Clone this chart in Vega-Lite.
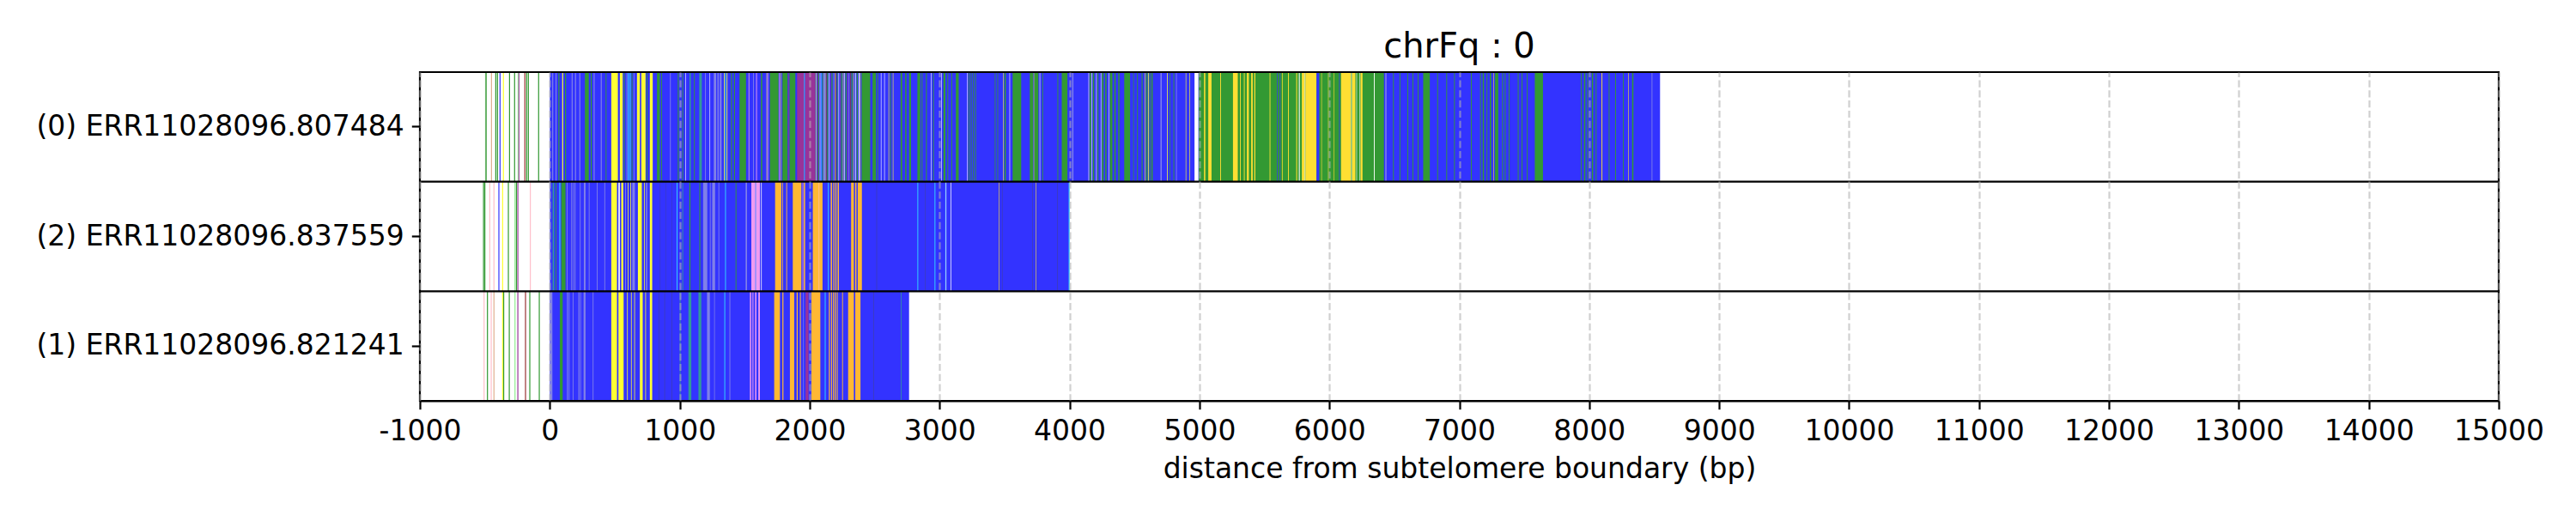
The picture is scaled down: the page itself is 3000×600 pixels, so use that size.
{
  "$schema": "https://vega.github.io/schema/vega-lite/v6.json",
  "width": 2421,
  "height": 383,
  "autosize": "none",
  "padding": {"left": 489, "top": 84, "right": 90, "bottom": 133},
  "background": "white",
  "config": {
    "font": "DejaVu Sans",
    "view": {"stroke": "black", "strokeWidth": 2.2}
  },
  "title": {
    "text": "chrFq : 0",
    "font": "DejaVu Sans",
    "fontSize": 40,
    "fontWeight": "normal",
    "color": "black",
    "anchor": "middle",
    "frame": "group",
    "baseline": "alphabetic",
    "offset": 17,
    "dy": 41
  },
  "datasets": {
    "reads": [
      {"id": "0", "name": "(0) ERR11028096.807484"},
      {"id": "2", "name": "(2) ERR11028096.837559"},
      {"id": "1", "name": "(1) ERR11028096.821241"}
    ],
    "segs": [
      {"r":"0","s":0,"e":8545,"c":"b"},
      {"r":"0","s":4995,"e":6420,"c":"g"},
      {"r":"0","s":-498,"e":-493,"c":"g"},
      {"r":"0","s":-490,"e":-485,"c":"g"},
      {"r":"0","s":-453,"e":-445,"c":"tn"},
      {"r":"0","s":-420,"e":-412,"c":"g"},
      {"r":"0","s":-407,"e":-399,"c":"g"},
      {"r":"0","s":-387,"e":-379,"c":"b"},
      {"r":"0","s":-361,"e":-353,"c":"y"},
      {"r":"0","s":-314,"e":-306,"c":"g"},
      {"r":"0","s":-275,"e":-267,"c":"g"},
      {"r":"0","s":-248,"e":-241,"c":"lg"},
      {"r":"0","s":-241,"e":-234,"c":"p"},
      {"r":"0","s":-196,"e":-188,"c":"dr"},
      {"r":"0","s":-182,"e":-174,"c":"g"},
      {"r":"0","s":-169,"e":-161,"c":"g"},
      {"r":"0","s":-90,"e":-82,"c":"g"},
      {"r":"0","s":18,"e":26,"c":"lp"},
      {"r":"0","s":44,"e":52,"c":"lp"},
      {"r":"0","s":66,"e":74,"c":"g"},
      {"r":"0","s":95,"e":103,"c":"y"},
      {"r":"0","s":117,"e":125,"c":"g"},
      {"r":"0","s":168,"e":176,"c":"lp"},
      {"r":"0","s":194,"e":202,"c":"lp"},
      {"r":"0","s":227,"e":235,"c":"lp"},
      {"r":"0","s":270,"e":300,"c":"g"},
      {"r":"0","s":315,"e":323,"c":"g"},
      {"r":"0","s":337,"e":345,"c":"lp"},
      {"r":"0","s":392,"e":400,"c":"lp"},
      {"r":"0","s":430,"e":436,"c":"g"},
      {"r":"0","s":473,"e":524,"c":"y"},
      {"r":"0","s":539,"e":561,"c":"y"},
      {"r":"0","s":570,"e":576,"c":"g"},
      {"r":"0","s":590,"e":596,"c":"lp"},
      {"r":"0","s":602,"e":608,"c":"c"},
      {"r":"0","s":616,"e":622,"c":"c"},
      {"r":"0","s":630,"e":636,"c":"g"},
      {"r":"0","s":645,"e":651,"c":"lp"},
      {"r":"0","s":671,"e":693,"c":"y"},
      {"r":"0","s":704,"e":737,"c":"y"},
      {"r":"0","s":745,"e":751,"c":"g"},
      {"r":"0","s":770,"e":792,"c":"y"},
      {"r":"0","s":825,"e":847,"c":"g"},
      {"r":"0","s":858,"e":864,"c":"g"},
      {"r":"0","s":925,"e":931,"c":"lp"},
      {"r":"0","s":985,"e":992,"c":"g"},
      {"r":"0","s":1020,"e":1026,"c":"g"},
      {"r":"0","s":1043,"e":1047,"c":"w"},
      {"r":"0","s":1075,"e":1085,"c":"t"},
      {"r":"0","s":1110,"e":1116,"c":"g"},
      {"r":"0","s":1150,"e":1170,"c":"t"},
      {"r":"0","s":1195,"e":1201,"c":"lp"},
      {"r":"0","s":1230,"e":1234,"c":"w"},
      {"r":"0","s":1262,"e":1280,"c":"lp"},
      {"r":"0","s":1290,"e":1300,"c":"lp"},
      {"r":"0","s":1308,"e":1322,"c":"lp"},
      {"r":"0","s":1340,"e":1345,"c":"y"},
      {"r":"0","s":1350,"e":1355,"c":"c"},
      {"r":"0","s":1362,"e":1367,"c":"y"},
      {"r":"0","s":1395,"e":1402,"c":"g"},
      {"r":"0","s":1418,"e":1425,"c":"g"},
      {"r":"0","s":1460,"e":1510,"c":"g"},
      {"r":"0","s":1530,"e":1535,"c":"pk"},
      {"r":"0","s":1565,"e":1571,"c":"lp"},
      {"r":"0","s":1588,"e":1594,"c":"v"},
      {"r":"0","s":1625,"e":1635,"c":"g"},
      {"r":"0","s":1668,"e":1672,"c":"y"},
      {"r":"0","s":1675,"e":1680,"c":"v"},
      {"r":"0","s":1694,"e":1760,"c":"g"},
      {"r":"0","s":1765,"e":1770,"c":"v"},
      {"r":"0","s":1775,"e":1779,"c":"y"},
      {"r":"0","s":1790,"e":1830,"c":"g"},
      {"r":"0","s":1835,"e":1840,"c":"p"},
      {"r":"0","s":1845,"e":1890,"c":"g"},
      {"r":"0","s":1903,"e":1958,"c":"p"},
      {"r":"0","s":1958,"e":1963,"c":"c"},
      {"r":"0","s":1965,"e":2045,"c":"p"},
      {"r":"0","s":2045,"e":2050,"c":"g"},
      {"r":"0","s":2050,"e":2054,"c":"w"},
      {"r":"0","s":2058,"e":2063,"c":"dr"},
      {"r":"0","s":2066,"e":2072,"c":"g"},
      {"r":"0","s":2078,"e":2082,"c":"w"},
      {"r":"0","s":2090,"e":2094,"c":"c"},
      {"r":"0","s":2098,"e":2104,"c":"g"},
      {"r":"0","s":2110,"e":2114,"c":"w"},
      {"r":"0","s":2118,"e":2122,"c":"y"},
      {"r":"0","s":2126,"e":2130,"c":"dr"},
      {"r":"0","s":2134,"e":2142,"c":"g"},
      {"r":"0","s":2148,"e":2152,"c":"w"},
      {"r":"0","s":2158,"e":2162,"c":"p"},
      {"r":"0","s":2168,"e":2176,"c":"g"},
      {"r":"0","s":2182,"e":2186,"c":"lp"},
      {"r":"0","s":2192,"e":2196,"c":"y"},
      {"r":"0","s":2200,"e":2205,"c":"dr"},
      {"r":"0","s":2210,"e":2216,"c":"g"},
      {"r":"0","s":2222,"e":2226,"c":"w"},
      {"r":"0","s":2232,"e":2236,"c":"p"},
      {"r":"0","s":2242,"e":2250,"c":"g"},
      {"r":"0","s":2256,"e":2260,"c":"y"},
      {"r":"0","s":2266,"e":2270,"c":"w"},
      {"r":"0","s":2276,"e":2284,"c":"g"},
      {"r":"0","s":2290,"e":2295,"c":"p"},
      {"r":"0","s":2300,"e":2305,"c":"lp"},
      {"r":"0","s":2310,"e":2316,"c":"dr"},
      {"r":"0","s":2322,"e":2330,"c":"g"},
      {"r":"0","s":2336,"e":2340,"c":"y"},
      {"r":"0","s":2350,"e":2355,"c":"w"},
      {"r":"0","s":2362,"e":2370,"c":"g"},
      {"r":"0","s":2378,"e":2384,"c":"w"},
      {"r":"0","s":2388,"e":2392,"c":"y"},
      {"r":"0","s":2400,"e":2466,"c":"g"},
      {"r":"0","s":2484,"e":2510,"c":"g"},
      {"r":"0","s":2520,"e":2526,"c":"g"},
      {"r":"0","s":2548,"e":2552,"c":"w"},
      {"r":"0","s":2574,"e":2578,"c":"w"},
      {"r":"0","s":2607,"e":2611,"c":"y"},
      {"r":"0","s":2620,"e":2626,"c":"g"},
      {"r":"0","s":2640,"e":2644,"c":"y"},
      {"r":"0","s":2700,"e":2712,"c":"g"},
      {"r":"0","s":2735,"e":2745,"c":"g"},
      {"r":"0","s":2765,"e":2780,"c":"g"},
      {"r":"0","s":2829,"e":2851,"c":"g"},
      {"r":"0","s":2862,"e":2868,"c":"g"},
      {"r":"0","s":2895,"e":2902,"c":"g"},
      {"r":"0","s":2933,"e":2937,"c":"w"},
      {"r":"0","s":2950,"e":2956,"c":"g"},
      {"r":"0","s":3014,"e":3018,"c":"w"},
      {"r":"0","s":3030,"e":3045,"c":"g"},
      {"r":"0","s":3060,"e":3066,"c":"g"},
      {"r":"0","s":3090,"e":3096,"c":"g"},
      {"r":"0","s":3125,"e":3147,"c":"g"},
      {"r":"0","s":3211,"e":3215,"c":"w"},
      {"r":"0","s":3224,"e":3230,"c":"g"},
      {"r":"0","s":3240,"e":3246,"c":"g"},
      {"r":"0","s":3258,"e":3264,"c":"g"},
      {"r":"0","s":3274,"e":3280,"c":"g"},
      {"r":"0","s":3425,"e":3430,"c":"g"},
      {"r":"0","s":3445,"e":3450,"c":"g"},
      {"r":"0","s":3488,"e":3492,"c":"y"},
      {"r":"0","s":3500,"e":3510,"c":"g"},
      {"r":"0","s":3538,"e":3542,"c":"w"},
      {"r":"0","s":3562,"e":3628,"c":"g"},
      {"r":"0","s":3694,"e":3720,"c":"g"},
      {"r":"0","s":3724,"e":3728,"c":"y"},
      {"r":"0","s":3730,"e":3760,"c":"g"},
      {"r":"0","s":3770,"e":3774,"c":"w"},
      {"r":"0","s":3790,"e":3796,"c":"g"},
      {"r":"0","s":3907,"e":3913,"c":"g"},
      {"r":"0","s":3940,"e":3984,"c":"g"},
      {"r":"0","s":4020,"e":4030,"c":"lp"},
      {"r":"0","s":4146,"e":4150,"c":"w"},
      {"r":"0","s":4155,"e":4165,"c":"g"},
      {"r":"0","s":4168,"e":4172,"c":"w"},
      {"r":"0","s":4180,"e":4190,"c":"g"},
      {"r":"0","s":4205,"e":4209,"c":"w"},
      {"r":"0","s":4215,"e":4222,"c":"g"},
      {"r":"0","s":4240,"e":4244,"c":"w"},
      {"r":"0","s":4250,"e":4262,"c":"g"},
      {"r":"0","s":4275,"e":4285,"c":"g"},
      {"r":"0","s":4300,"e":4304,"c":"w"},
      {"r":"0","s":4311,"e":4330,"c":"g"},
      {"r":"0","s":4345,"e":4355,"c":"g"},
      {"r":"0","s":4375,"e":4385,"c":"g"},
      {"r":"0","s":4421,"e":4466,"c":"g"},
      {"r":"0","s":4490,"e":4495,"c":"g"},
      {"r":"0","s":4520,"e":4526,"c":"g"},
      {"r":"0","s":4555,"e":4562,"c":"g"},
      {"r":"0","s":4580,"e":4584,"c":"y"},
      {"r":"0","s":4590,"e":4600,"c":"g"},
      {"r":"0","s":4605,"e":4610,"c":"y"},
      {"r":"0","s":4615,"e":4622,"c":"g"},
      {"r":"0","s":4630,"e":4640,"c":"g"},
      {"r":"0","s":4700,"e":4710,"c":"lp"},
      {"r":"0","s":4751,"e":4756,"c":"y"},
      {"r":"0","s":4770,"e":4775,"c":"g"},
      {"r":"0","s":4800,"e":4806,"c":"g"},
      {"r":"0","s":4820,"e":4826,"c":"lp"},
      {"r":"0","s":4894,"e":4898,"c":"y"},
      {"r":"0","s":4922,"e":4926,"c":"y"},
      {"r":"0","s":4962,"e":4992,"c":"w"},
      {"r":"0","s":5035,"e":5045,"c":"gd"},
      {"r":"0","s":5068,"e":5093,"c":"gd"},
      {"r":"0","s":5160,"e":5166,"c":"gd"},
      {"r":"0","s":5258,"e":5295,"c":"gd"},
      {"r":"0","s":5312,"e":5318,"c":"gd"},
      {"r":"0","s":5342,"e":5348,"c":"gd"},
      {"r":"0","s":5365,"e":5380,"c":"gd"},
      {"r":"0","s":5398,"e":5410,"c":"gd"},
      {"r":"0","s":5422,"e":5430,"c":"gd"},
      {"r":"0","s":5540,"e":5546,"c":"gd"},
      {"r":"0","s":5598,"e":5603,"c":"b"},
      {"r":"0","s":5618,"e":5623,"c":"b"},
      {"r":"0","s":5635,"e":5640,"c":"gd"},
      {"r":"0","s":5682,"e":5688,"c":"gd"},
      {"r":"0","s":5745,"e":5752,"c":"gd"},
      {"r":"0","s":5765,"e":5772,"c":"w"},
      {"r":"0","s":5788,"e":5810,"c":"gd"},
      {"r":"0","s":5810,"e":5816,"c":"w"},
      {"r":"0","s":5816,"e":5901,"c":"gd"},
      {"r":"0","s":5901,"e":5922,"c":"b"},
      {"r":"0","s":5938,"e":5942,"c":"gd"},
      {"r":"0","s":5990,"e":5994,"c":"gd"},
      {"r":"0","s":6033,"e":6037,"c":"gd"},
      {"r":"0","s":6075,"e":6080,"c":"b"},
      {"r":"0","s":6090,"e":6165,"c":"gd"},
      {"r":"0","s":6168,"e":6173,"c":"w"},
      {"r":"0","s":6175,"e":6200,"c":"gd"},
      {"r":"0","s":6208,"e":6212,"c":"w"},
      {"r":"0","s":6233,"e":6237,"c":"w"},
      {"r":"0","s":6240,"e":6255,"c":"gd"},
      {"r":"0","s":6343,"e":6349,"c":"w"},
      {"r":"0","s":6430,"e":6440,"c":"lp"},
      {"r":"0","s":6490,"e":6496,"c":"g"},
      {"r":"0","s":6540,"e":6546,"c":"g"},
      {"r":"0","s":6600,"e":6606,"c":"g"},
      {"r":"0","s":6640,"e":6646,"c":"g"},
      {"r":"0","s":6680,"e":6686,"c":"g"},
      {"r":"0","s":6722,"e":6773,"c":"g"},
      {"r":"0","s":6830,"e":6836,"c":"g"},
      {"r":"0","s":6900,"e":6906,"c":"g"},
      {"r":"0","s":6960,"e":6966,"c":"g"},
      {"r":"0","s":7090,"e":7096,"c":"g"},
      {"r":"0","s":7160,"e":7166,"c":"g"},
      {"r":"0","s":7180,"e":7190,"c":"g"},
      {"r":"0","s":7210,"e":7216,"c":"g"},
      {"r":"0","s":7235,"e":7245,"c":"g"},
      {"r":"0","s":7263,"e":7267,"c":"gd"},
      {"r":"0","s":7275,"e":7300,"c":"g"},
      {"r":"0","s":7330,"e":7336,"c":"g"},
      {"r":"0","s":7350,"e":7356,"c":"g"},
      {"r":"0","s":7380,"e":7386,"c":"g"},
      {"r":"0","s":7450,"e":7456,"c":"g"},
      {"r":"0","s":7480,"e":7486,"c":"g"},
      {"r":"0","s":7520,"e":7526,"c":"g"},
      {"r":"0","s":7581,"e":7644,"c":"g"},
      {"r":"0","s":7935,"e":7941,"c":"g"},
      {"r":"0","s":7960,"e":7970,"c":"g"},
      {"r":"0","s":7985,"e":7991,"c":"g"},
      {"r":"0","s":8020,"e":8030,"c":"g"},
      {"r":"0","s":8050,"e":8056,"c":"g"},
      {"r":"0","s":8095,"e":8101,"c":"gd"},
      {"r":"0","s":8150,"e":8156,"c":"g"},
      {"r":"0","s":8200,"e":8206,"c":"g"},
      {"r":"0","s":8260,"e":8266,"c":"g"},
      {"r":"0","s":8300,"e":8304,"c":"gd"},
      {"r":"0","s":8330,"e":8340,"c":"g"},
      {"r":"0","s":8480,"e":8486,"c":"lp"},

      {"r":"2","s":0,"e":4000,"c":"b"},
      {"r":"2","s":-514,"e":-506,"c":"g"},
      {"r":"2","s":-504,"e":-496,"c":"g"},
      {"r":"2","s":-466,"e":-458,"c":"pk"},
      {"r":"2","s":-434,"e":-426,"c":"pk"},
      {"r":"2","s":-396,"e":-388,"c":"b"},
      {"r":"2","s":-367,"e":-359,"c":"y"},
      {"r":"2","s":-323,"e":-315,"c":"g"},
      {"r":"2","s":-272,"e":-264,"c":"lg"},
      {"r":"2","s":-261,"e":-253,"c":"g"},
      {"r":"2","s":-250,"e":-242,"c":"p"},
      {"r":"2","s":-154,"e":-146,"c":"pk"},
      {"r":"2","s":0,"e":6,"c":"lp"},
      {"r":"2","s":22,"e":33,"c":"t"},
      {"r":"2","s":44,"e":50,"c":"g"},
      {"r":"2","s":74,"e":80,"c":"c"},
      {"r":"2","s":88,"e":121,"c":"g"},
      {"r":"2","s":130,"e":136,"c":"lp"},
      {"r":"2","s":165,"e":172,"c":"lp"},
      {"r":"2","s":180,"e":186,"c":"lp"},
      {"r":"2","s":192,"e":198,"c":"lp"},
      {"r":"2","s":231,"e":237,"c":"lp"},
      {"r":"2","s":262,"e":275,"c":"lp"},
      {"r":"2","s":300,"e":306,"c":"lp"},
      {"r":"2","s":362,"e":368,"c":"lp"},
      {"r":"2","s":420,"e":426,"c":"lp"},
      {"r":"2","s":473,"e":517,"c":"y"},
      {"r":"2","s":528,"e":539,"c":"w"},
      {"r":"2","s":550,"e":565,"c":"y"},
      {"r":"2","s":580,"e":586,"c":"lp"},
      {"r":"2","s":600,"e":605,"c":"y"},
      {"r":"2","s":620,"e":625,"c":"y"},
      {"r":"2","s":635,"e":655,"c":"lp"},
      {"r":"2","s":678,"e":708,"c":"y"},
      {"r":"2","s":725,"e":730,"c":"y"},
      {"r":"2","s":740,"e":750,"c":"lp"},
      {"r":"2","s":770,"e":788,"c":"y"},
      {"r":"2","s":848,"e":851,"c":"dk"},
      {"r":"2","s":892,"e":895,"c":"dk"},
      {"r":"2","s":936,"e":939,"c":"dk"},
      {"r":"2","s":977,"e":982,"c":"c"},
      {"r":"2","s":1020,"e":1026,"c":"t"},
      {"r":"2","s":1074,"e":1082,"c":"g"},
      {"r":"2","s":1151,"e":1158,"c":"g"},
      {"r":"2","s":1180,"e":1212,"c":"lp"},
      {"r":"2","s":1232,"e":1238,"c":"lp"},
      {"r":"2","s":1250,"e":1272,"c":"lp"},
      {"r":"2","s":1298,"e":1304,"c":"lp"},
      {"r":"2","s":1350,"e":1355,"c":"c"},
      {"r":"2","s":1430,"e":1436,"c":"g"},
      {"r":"2","s":1507,"e":1518,"c":"lp"},
      {"r":"2","s":1551,"e":1580,"c":"v"},
      {"r":"2","s":1582,"e":1587,"c":"w"},
      {"r":"2","s":1589,"e":1617,"c":"v"},
      {"r":"2","s":1626,"e":1631,"c":"w"},
      {"r":"2","s":1734,"e":1782,"c":"o"},
      {"r":"2","s":1790,"e":1795,"c":"o"},
      {"r":"2","s":1820,"e":1826,"c":"o"},
      {"r":"2","s":1870,"e":1936,"c":"o"},
      {"r":"2","s":1945,"e":1950,"c":"v"},
      {"r":"2","s":1955,"e":1965,"c":"o"},
      {"r":"2","s":2024,"e":2099,"c":"o"},
      {"r":"2","s":2070,"e":2074,"c":"pk"},
      {"r":"2","s":2142,"e":2147,"c":"c"},
      {"r":"2","s":2162,"e":2172,"c":"o"},
      {"r":"2","s":2182,"e":2190,"c":"o"},
      {"r":"2","s":2198,"e":2206,"c":"o"},
      {"r":"2","s":2215,"e":2225,"c":"o"},
      {"r":"2","s":2319,"e":2340,"c":"o"},
      {"r":"2","s":2350,"e":2360,"c":"o"},
      {"r":"2","s":2370,"e":2402,"c":"o"},
      {"r":"2","s":2514,"e":2518,"c":"dk"},
      {"r":"2","s":2830,"e":2835,"c":"c"},
      {"r":"2","s":2889,"e":2893,"c":"dk"},
      {"r":"2","s":2962,"e":2967,"c":"c"},
      {"r":"2","s":3044,"e":3048,"c":"c"},
      {"r":"2","s":3048,"e":3052,"c":"w"},
      {"r":"2","s":3084,"e":3089,"c":"w"},
      {"r":"2","s":3456,"e":3460,"c":"gd"},
      {"r":"2","s":3480,"e":3484,"c":"dk"},
      {"r":"2","s":3712,"e":3716,"c":"dk"},
      {"r":"2","s":3740,"e":3744,"c":"gd"},
      {"r":"2","s":3906,"e":3910,"c":"dk"},
      {"r":"2","s":3994,"e":4000,"c":"c"},

      {"r":"1","s":0,"e":2765,"c":"b"},
      {"r":"1","s":-510,"e":-502,"c":"pk"},
      {"r":"1","s":-484,"e":-476,"c":"g"},
      {"r":"1","s":-455,"e":-447,"c":"pk"},
      {"r":"1","s":-434,"e":-426,"c":"tn"},
      {"r":"1","s":-367,"e":-359,"c":"y"},
      {"r":"1","s":-359,"e":-351,"c":"g"},
      {"r":"1","s":-316,"e":-308,"c":"g"},
      {"r":"1","s":-272,"e":-264,"c":"lg"},
      {"r":"1","s":-250,"e":-242,"c":"p"},
      {"r":"1","s":-191,"e":-183,"c":"dr"},
      {"r":"1","s":-158,"e":-150,"c":"g"},
      {"r":"1","s":-85,"e":-77,"c":"g"},
      {"r":"1","s":0,"e":20,"c":"lp"},
      {"r":"1","s":77,"e":99,"c":"g"},
      {"r":"1","s":132,"e":140,"c":"lp"},
      {"r":"1","s":146,"e":152,"c":"lp"},
      {"r":"1","s":176,"e":182,"c":"lp"},
      {"r":"1","s":220,"e":228,"c":"lp"},
      {"r":"1","s":234,"e":240,"c":"lp"},
      {"r":"1","s":260,"e":275,"c":"lp"},
      {"r":"1","s":330,"e":336,"c":"lp"},
      {"r":"1","s":473,"e":517,"c":"y"},
      {"r":"1","s":528,"e":568,"c":"y"},
      {"r":"1","s":595,"e":600,"c":"y"},
      {"r":"1","s":625,"e":630,"c":"y"},
      {"r":"1","s":650,"e":655,"c":"y"},
      {"r":"1","s":693,"e":715,"c":"y"},
      {"r":"1","s":735,"e":740,"c":"y"},
      {"r":"1","s":770,"e":788,"c":"y"},
      {"r":"1","s":838,"e":842,"c":"dk"},
      {"r":"1","s":882,"e":886,"c":"dk"},
      {"r":"1","s":937,"e":941,"c":"dk"},
      {"r":"1","s":1000,"e":1006,"c":"t"},
      {"r":"1","s":1067,"e":1089,"c":"t"},
      {"r":"1","s":1144,"e":1166,"c":"t"},
      {"r":"1","s":1210,"e":1232,"c":"lp"},
      {"r":"1","s":1265,"e":1270,"c":"lp"},
      {"r":"1","s":1344,"e":1349,"c":"c"},
      {"r":"1","s":1383,"e":1389,"c":"lp"},
      {"r":"1","s":1540,"e":1550,"c":"v"},
      {"r":"1","s":1560,"e":1567,"c":"v"},
      {"r":"1","s":1580,"e":1590,"c":"v"},
      {"r":"1","s":1605,"e":1617,"c":"v"},
      {"r":"1","s":1727,"e":1771,"c":"o"},
      {"r":"1","s":1790,"e":1798,"c":"o"},
      {"r":"1","s":1848,"e":1881,"c":"o"},
      {"r":"1","s":1900,"e":1908,"c":"o"},
      {"r":"1","s":1925,"e":1932,"c":"o"},
      {"r":"1","s":1950,"e":1955,"c":"lp"},
      {"r":"1","s":1969,"e":1991,"c":"p"},
      {"r":"1","s":2013,"e":2082,"c":"o"},
      {"r":"1","s":2117,"e":2122,"c":"c"},
      {"r":"1","s":2148,"e":2156,"c":"o"},
      {"r":"1","s":2165,"e":2172,"c":"o"},
      {"r":"1","s":2180,"e":2188,"c":"o"},
      {"r":"1","s":2195,"e":2203,"c":"o"},
      {"r":"1","s":2210,"e":2216,"c":"o"},
      {"r":"1","s":2250,"e":2256,"c":"o"},
      {"r":"1","s":2296,"e":2340,"c":"o"},
      {"r":"1","s":2351,"e":2391,"c":"o"},
      {"r":"1","s":2492,"e":2496,"c":"dk"},
      {"r":"1","s":2702,"e":2707,"c":"t"}
    ]
  },
  "layer": [
    {
      "data": {"name": "segs"},
      "transform": [
        {"lookup": "r", "from": {"data": {"name": "reads"}, "key": "id", "fields": ["name"]}}
      ],
      "mark": {"type": "rect"},
      "encoding": {
        "x": {
          "field": "s",
          "type": "quantitative",
          "title": "distance from subtelomere boundary (bp)",
          "scale": {"domain": [-1000, 15000], "nice": false, "zero": false},
          "axis": {
            "values": [-1000, 0, 1000, 2000, 3000, 4000, 5000, 6000, 7000, 8000, 9000, 10000, 11000, 12000, 13000, 14000, 15000],
            "labelExpr": "'' + datum.value",
            "labelFontSize": 33,
            "labelColor": "black",
            "labelPadding": 10,
            "labelOverlap": false,
            "labelFlush": false,
            "labelBound": false,
            "tickSize": 9.7,
            "tickWidth": 2.2,
            "tickColor": "black",
            "domain": true,
            "domainColor": "black",
            "domainWidth": 2.2,
            "grid": true,
            "gridColor": "#b0b0b0",
            "gridOpacity": 0.6,
            "gridWidth": 2.2,
            "gridDash": [8.2, 3.6],
            "titleFontSize": 33,
            "titleFontWeight": "normal",
            "titleColor": "black",
            "titlePadding": 11,
            "zindex": 1
          }
        },
        "x2": {"field": "e"},
        "y": {
          "field": "name",
          "type": "nominal",
          "title": null,
          "scale": {
            "domain": ["(0) ERR11028096.807484", "(2) ERR11028096.837559", "(1) ERR11028096.821241"],
            "paddingInner": 0,
            "paddingOuter": 0
          },
          "axis": {
            "labelFontSize": 33,
            "labelColor": "black",
            "labelPadding": 9,
            "labelLimit": 800,
            "tickSize": 9.7,
            "tickWidth": 2.2,
            "tickColor": "black",
            "domain": false,
            "grid": false
          }
        },
        "color": {
          "field": "c",
          "type": "nominal",
          "legend": null,
          "scale": {
            "domain": ["b", "g", "y", "gd", "o", "lp", "v", "p", "c", "t", "w", "dr", "tn", "pk", "lg", "dk"],
            "range": ["#3333FF", "#339933", "#FFFF33", "#FFDF33", "#FFB833", "#8080E8", "#F09CF0", "#993399", "#33FFFF", "#339999", "#FFFFFF", "#993333", "#E0B090", "#FFC0CB", "#90EE90", "#4040A0"]
          }
        }
      }
    },
    {
      "data": {"name": "reads"},
      "mark": {"type": "rule", "color": "black", "strokeWidth": 2.2},
      "encoding": {
        "y": {"field": "name", "type": "nominal", "bandPosition": 0}
      }
    },
    {
      "data": {"values": [{"name": "(1) ERR11028096.821241"}]},
      "mark": {"type": "rule", "color": "black", "strokeWidth": 2.2},
      "encoding": {
        "y": {"field": "name", "type": "nominal", "bandPosition": 1}
      }
    }
  ]
}
